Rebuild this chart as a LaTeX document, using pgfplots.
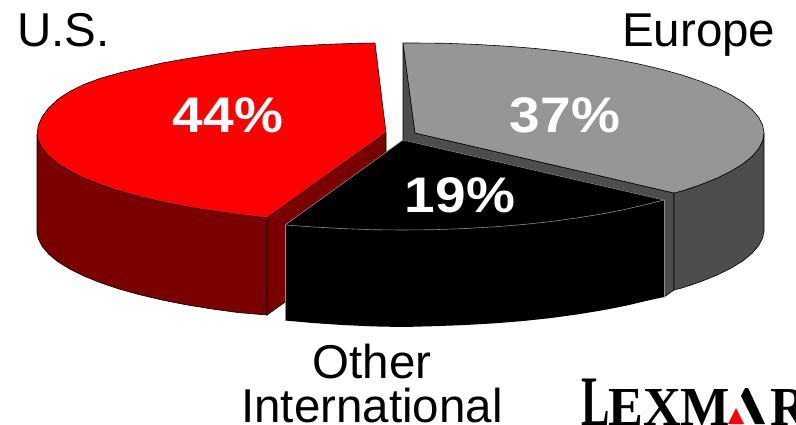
\documentclass[border=0pt]{standalone}
\usepackage{pgfplots}
\pgfplotsset{compat=1.18}
\usepackage{fontspec}
\setmainfont{Liberation Sans}
\newfontfamily\logofont{Liberation Serif}
\definecolor{usred}{RGB}{255,0,0}
\definecolor{usdark}{RGB}{122,0,0}
\definecolor{eugrey}{RGB}{150,150,150}
\definecolor{eudark}{RGB}{77,77,77}
\begin{document}
\begin{tikzpicture}[x=1pt,y=1pt]
\clip (0,0) rectangle (796,424);
\path[use as bounding box] (0,0) rectangle (796,424);
\begin{axis}[
  at={(0,0)}, anchor=south west,
  width=796pt, height=424pt, scale only axis,
  axis lines=none, clip=false,
  xmin=0, xmax=796, ymin=0, ymax=424, y dir=reverse,
]
% U.S. slice: outer wall, inner wall, top face
\addplot[fill=usdark, draw=black, line width=0.6pt] coordinates {
  (37,135) (37,233) (38.3,238.8) (42.3,246.6) (48.9,254.3) (58,261.8) (69.7,269) (83.8,276) (100.1,282.6)
  (118.7,288.9) (139.2,294.6) (161.7,299.9) (185.8,304.7) (211.5,308.9) (238.5,312.6) (267,315) (267,218)
  (238.5,214.6) (211.5,210.9) (185.8,206.7) (161.7,201.9) (139.2,196.6) (118.7,190.9) (100.1,184.6) (83.8,178)
  (69.7,171) (58,163.8) (48.9,156.3) (42.3,148.6) (38.3,140.8) (37,135)};
\addplot[fill=usdark, draw=black, line width=0.6pt] coordinates {
  (267,218) (267,315) (386,230) (386,133) (267,218)};
\addplot[fill=usred, draw=black, line width=0.6pt] coordinates {
  (375,43) (386,133) (267,218) (238.5,214.6) (211.5,210.9) (185.8,206.7) (161.7,201.9) (139.2,196.6) (118.7,190.9)
  (100.1,184.6) (83.8,178) (69.7,171) (58,163.8) (48.9,156.3) (42.3,148.6) (38.3,140.8) (37,135) (38.3,125.2)
  (42.3,116.4) (48.9,107.7) (58,99.2) (69.7,91.5) (83.8,84.5) (100.1,78.4) (118.7,73.1) (139.2,68.4) (161.7,63.1)
  (185.8,58.8) (211.5,54.8) (238.5,51.2) (266.6,48.2) (295.7,46) (325.4,44.4) (355.6,43.3) (375,43)};
% Europe slice: walls, top face
\addplot[fill=eudark, draw=black, line width=0.6pt] coordinates {
  (403,43) (403,140) (664,200) (664,297) (674,290) (674,193) (415,133) (403,43)};
\addplot[fill=eudark, draw=black, line width=0.6pt] coordinates {
  (674,193) (674,290) (682.3,287.9) (700.9,281.6) (717.2,275) (731.3,268) (743,260.8) (752.1,253.3) (758.7,245.6)
  (762.7,237.8) (764,231) (764,133) (762.7,140.8) (758.7,148.6) (752.1,156.3) (743,163.8) (731.3,171) (717.2,178)
  (700.9,184.6) (682.3,190.9) (674,193)};
\addplot[fill=eugrey, draw=black, line width=0.6pt] coordinates {
  (403,43) (415,133) (674,193) (682.3,190.9) (700.9,184.6) (717.2,178) (731.3,171) (743,163.8) (752.1,156.3)
  (758.7,148.6) (762.7,140.8) (764,133) (762.7,125.2) (758.7,117.4) (752.1,109.7) (743,102.2) (731.3,95) (717.2,88)
  (700.9,81.4) (682.3,75.1) (661.8,69.4) (639.3,64.1) (615.2,59.3) (589.5,55.1) (562.5,51.4) (534.4,48.4)
  (505.3,46.1) (475.6,44.4) (445.4,43.3) (415,43) (403,43)};
% Other International slice: wall, top face, light edges
\addplot[fill=black, draw=none] coordinates {
  (285,225) (285,320.5) (312.7,323) (342.4,325) (372.6,326.4) (403,327) (433.4,326.2) (463.6,325.1) (493.3,323.4)
  (522.4,321.1) (550.5,318.1) (577.5,314.4) (603.2,310.2) (627.3,305.4) (649.8,300.1) (664,297) (664,200)};
\addplot[fill=black, draw=black!45, line width=0.6pt] coordinates {
  (285,225) (403,140) (664,200) (649.8,203.6) (627.3,208.9) (603.2,213.7) (577.5,217.9) (550.5,221.6) (522.4,224.6)
  (493.3,226.9) (463.6,228.6) (433.4,229.7) (403,230) (372.6,229.7) (342.4,228.6) (312.7,226.9) (285,225)};
\addplot[draw=black!45, line width=0.6pt] coordinates {(285,225) (285,320.5)};
\addplot[draw=black!45, line width=0.6pt] coordinates {(664,200) (664,297)};
% Category labels
\node[anchor=base west, font=\fontsize{47.5}{47.5}\selectfont, inner sep=0pt] at (axis cs:17,46) {U.S.};
\node[anchor=base west, font=\fontsize{47.5}{47.5}\selectfont, inner sep=0pt] at (axis cs:622,46) {Europe};
\node[anchor=base, font=\fontsize{47.5}{47.5}\selectfont, inner sep=0pt] at (axis cs:372,378) {Other};
\node[anchor=base, font=\fontsize{47.5}{47.5}\selectfont, inner sep=0pt] at (axis cs:372,422) {International};
% Share labels
\node[anchor=base, text=white, xscale=1.1, font=\bfseries\fontsize{50}{50}\selectfont, inner sep=0pt] at (axis cs:228,132) {44\%};
\node[anchor=base, text=white, xscale=1.1, font=\bfseries\fontsize{50}{50}\selectfont, inner sep=0pt] at (axis cs:565,132) {37\%};
\node[anchor=base, text=white, xscale=1.1, font=\bfseries\fontsize{50}{50}\selectfont, inner sep=0pt] at (axis cs:460,212) {19\%};
% Company mark
\node[anchor=base west, xscale=0.6, font=\logofont\bfseries\fontsize{71}{71}\selectfont, inner sep=0pt] at (axis cs:581,425) {L};
\node[anchor=base west, xscale=0.95, font=\logofont\bfseries\fontsize{55}{55}\selectfont, inner sep=0pt] at (axis cs:608,425) {EXM};
\node[anchor=base west, xscale=0.95, font=\logofont\bfseries\fontsize{55}{55}\selectfont, inner sep=0pt] at (axis cs:770,425) {R};
\addplot[fill=black, draw=none] coordinates {(745,388) (748,388) (765,424) (755,424) (741,396)};
\addplot[fill=usred, draw=none] coordinates {(728,424) (736,408) (744,424)};
\end{axis}
\end{tikzpicture}
\end{document}
